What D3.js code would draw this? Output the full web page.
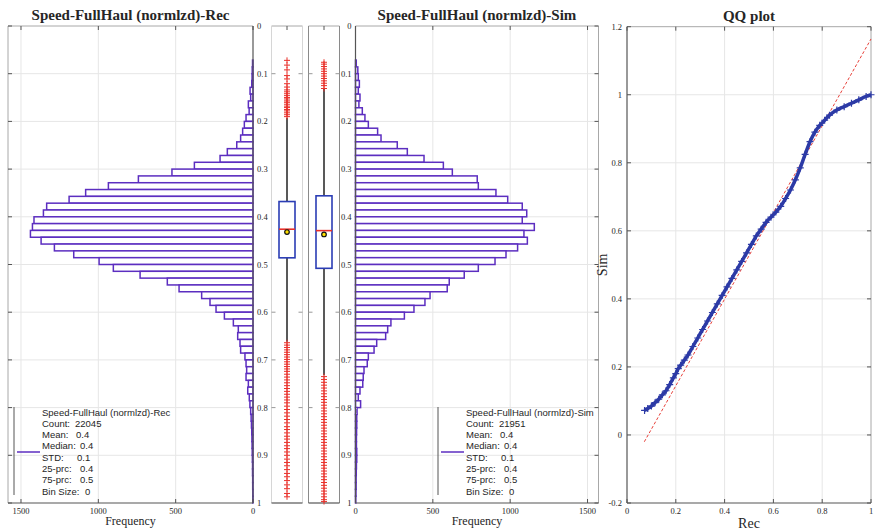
<!DOCTYPE html>
<html><head><meta charset="utf-8">
<script src="https://cdn.jsdelivr.net/npm/d3@7"></script>
<style>body{margin:0;background:#fff} svg{display:block}</style>
</head><body><svg id="c" width="878" height="531"></svg>
<script>
// ---------- data ----------
const binWidth = 1 / 70;
const binStartIndex = 5; // first bin covers [5/70, 6/70]
const recCounts = [3,5,6, 8,19,15,30,25,45,56,67,80,105, 166,213,379,524,741,935,1082,1189,1334,1355,
  1416,1426,1439,1370,1284,1159,995,903,730,554, 478,332,278,239,185,127,95,99,84,80,
  52,45,41,45,30,34,24, 20,15,12,10,8,7,6,5,4,3,3,2,2,1,1];
const simCounts = [5,15,18, 25,18,29,22,44,61,83,143,165,270, 335,443,568,626,787,794,908,984,1078,1107,
  1078,1156,1089,1111,1048,973,902,794,703,606, 593,482,449,378,316,229,208,195,137,120,
  83,76,55,50,47,29,18, 33,10,8,8,7,6,6,8,8,6,5,4,4,3,2];
const valueTicks = [0,0.1,0.2,0.3,0.4,0.5,0.6,0.7,0.8,0.9,1];
const valueTickLabels = ["0","0.1","0.2","0.3","0.4","0.5","0.6","0.7","0.8","0.9","1"];
const freqTicks = [0,500,1000,1500];
// box stats: [upper whisker end, q1, median, q3, lower whisker end, mean]
const recBoxStats = [0.193, 0.368, 0.426, 0.486, 0.662, 0.432];
const simBoxStats = [0.131, 0.356, 0.429, 0.508, 0.732, 0.437];
const recOutliers = [0.072,0.082,0.092,0.104,0.111,0.121,0.128,0.134,0.138,0.142,0.146,0.150,0.153,0.157,0.160,0.164,0.168,0.171,0.175,0.178,0.182,0.186,0.190,
  0.664,0.669,0.674,0.679,0.684,0.689,0.694,0.699,0.704,0.709,0.714,0.719,0.724,0.730,0.736,0.742,0.748,0.754,0.760,0.766,0.772,0.778,0.784,0.790,0.797,0.804,0.811,0.818,0.825,0.832,
  0.840,0.846,0.853,0.860,0.866,0.873,0.880,0.886,0.893,0.900,0.908,0.915,0.922,0.930,0.938,0.945,0.953,0.962,0.970,0.980,0.987];
const simOutliers = [0.076,0.080,0.085,0.090,0.095,0.100,0.105,0.110,0.115,0.120,0.125,0.131,
  0.735,0.741,0.747,0.753,0.759,0.765,0.771,0.777,0.783,0.789,0.795,0.801,0.807,0.813,0.819,0.825,0.831,0.837,0.843,0.849,0.855,0.861,0.867,0.873,0.879,0.885,0.891,0.897,
  0.903,0.909,0.915,0.921,0.927,0.933,0.939,0.945,0.951,0.957,0.963,0.969,0.975,0.981,0.987,0.993,0.997];
const qqRec = [0.072,0.085,0.10,0.115,0.13,0.145,0.16,0.175,0.19,0.20,0.21,0.22,0.235,0.25,0.27,0.29,0.31,0.33,0.35,0.37,0.39,0.41,0.43,0.45,0.47,0.49,0.51,0.53,0.55,0.57,0.59,0.61,0.63,0.65,0.67,0.69,0.71,0.73,0.75,0.77,0.79,0.81,0.83,0.86,0.89,0.92,0.95,0.98,1.0];
const qqSim = [0.072,0.078,0.085,0.095,0.105,0.118,0.13,0.148,0.168,0.18,0.195,0.205,0.22,0.235,0.26,0.285,0.31,0.335,0.36,0.385,0.41,0.435,0.46,0.485,0.51,0.535,0.56,0.585,0.605,0.625,0.64,0.655,0.672,0.695,0.72,0.75,0.785,0.825,0.862,0.89,0.91,0.925,0.94,0.955,0.965,0.975,0.985,0.995,1.0];
const qqRefLineX = [0.071, 1.0];
const qqRefLineY = [-0.02, 1.164];
const qqXTicks = [0,0.2,0.4,0.6,0.8,1];
const qqXTickLabels = ["0","0.2","0.4","0.6","0.8","1"];
const qqYTicks = [-0.2,0,0.2,0.4,0.6,0.8,1,1.2];
const qqYTickLabels = ["-0.2","0","0.2","0.4","0.6","0.8","1","1.2"];
const legendLabels = ["Count:","Mean:","Median:","STD:","25-prc:","75-prc:","Bin Size:"];
const recLegendValues = ["22045","0.4","0.4","0.1","0.4","0.5","0"];
const simLegendValues = ["21951","0.4","0.4","0.1","0.4","0.5","0"];
const legendValueOffsets = [33,34,38,35,38,38,43];

// ---------- styles ----------
const svg = d3.select('#c');
const gridC = '#e6e6e6', lightC = '#a8a8a8', axC = '#555', txtC = '#262626';
const purple = '#5c2ec0', boxBlue = '#2b3db5', outRed = '#e8302a', qqBlue = '#2c3aa6';
const tickFont = 'Liberation Serif, Times New Roman, serif';

const yV = d3.scaleLinear().domain([0,1]).range([26,503]);
const xL = d3.scaleLinear().domain([0,1584]).range([253,8]);
const xR = d3.scaleLinear().domain([0,1571]).range([355.5,598.5]);
const xQ = d3.scaleLinear().domain([0,1]).range([627,871]);
const yQ = d3.scaleLinear().domain([-0.2,1.2]).range([503,26.7]);

function line(g, x1,y1,x2,y2,c,w){ return g.append('line').attr('x1',x1).attr('y1',y1).attr('x2',x2).attr('y2',y2).attr('stroke',c).attr('stroke-width',w||1); }
function txt(g, x,y,s,opt){ opt=opt||{}; return g.append('text').attr('x',x).attr('y',y).text(s)
  .attr('font-family',opt.ff||tickFont).attr('font-size',opt.fs||8.5).attr('fill',opt.fill||txtC)
  .attr('text-anchor',opt.anchor||'start').attr('font-weight',opt.fw||'normal'); }

// ---------- histogram ----------
function histogram(xs, counts, axisOnRight, title, legendX, legendVals, legendName) {
  const g = svg.append('g');
  const [xa, xb] = xs.range();
  const xmin = Math.min(xa,xb), xmax = Math.max(xa,xb);
  const y0 = yV(0), y1 = yV(1);
  valueTicks.slice(1,-1).forEach(v => line(g, xmin, yV(v), xmax, yV(v), gridC, 1));
  freqTicks.slice(1).forEach(f => line(g, xs(f), y0, xs(f), y1, gridC, 1));
  counts.forEach((c,i) => {
    if (c <= 0) return;
    const k = binStartIndex + i;
    const yt = yV(k*binWidth), yb = yV((k+1)*binWidth);
    const xz = xs(0), xc = xs(c);
    g.append('rect').attr('x', Math.min(xz,xc)).attr('width', Math.abs(xc-xz))
      .attr('y', yt).attr('height', yb-yt)
      .attr('fill','#fff').attr('stroke',purple).attr('stroke-width',1.5);
  });
  const axisX = xs(0);
  const otherX = axisOnRight ? xmin : xmax;
  line(g, xmin, y0, xmax, y0, lightC, 1);
  line(g, otherX, y0, otherX, y1, lightC, 1);
  line(g, xmin, y1, xmax, y1, axC, 1.2);
  line(g, axisX, y0, axisX, y1, axC, 1.2);
  freqTicks.forEach(f => { line(g, xs(f), y1, xs(f), y1-4, axC, 1); line(g, xs(f), y0, xs(f), y0+4, axC, 1); });
  valueTicks.forEach(v => { line(g, otherX, yV(v), otherX + (axisOnRight?4:-4), yV(v), axC, 1); });
  valueTicks.forEach((v,i) => {
    if (axisOnRight) txt(g, axisX+4, yV(v)+3, valueTickLabels[i]);
    else txt(g, axisX-4, yV(v)+3, valueTickLabels[i], {anchor:'end'});
  });
  freqTicks.forEach(f => txt(g, xs(f), 514, String(f), {anchor:'middle'}));
  txt(g, (xmin+xmax)/2, 525, 'Frequency', {fs:12, anchor:'middle'});
  txt(g, (xmin+xmax)/2, 20, title, {fs:15, fw:'bold', anchor:'middle'});
  const lg = svg.append('g');
  line(lg, legendX-28, 407, legendX-28, 495, '#555', 1);
  line(lg, legendX-25, 452, legendX-2, 452, purple, 1.5);
  const lf = {ff:'Liberation Sans, Arial, sans-serif', fs:9.5};
  txt(lg, legendX, 415.5, legendName, lf);
  legendLabels.forEach((l,i) => {
    const yy = 415.5 + (i+1)*11.3;
    txt(lg, legendX, yy, l, lf);
    txt(lg, legendX + legendValueOffsets[i], yy, legendVals[i], lf);
  });
}
histogram(xL, recCounts, true, 'Speed-FullHaul (normlzd)-Rec', 42, recLegendValues, 'Speed-FullHaul (normlzd)-Rec');
histogram(xR, simCounts, false, 'Speed-FullHaul (normlzd)-Sim', 466, simLegendValues, 'Speed-FullHaul (normlzd)-Sim');

// ---------- box plots ----------
function boxPanel(x0, x1, stats, outliers, sideC) {
  const g = svg.append('g');
  const cx = (x0+x1)/2, y0 = yV(0), y1 = yV(1);
  line(g, x0, y0, x1, y0, lightC, 1);
  line(g, x0, y0, x0, y1, sideC, 1);
  line(g, x1, y0, x1, y1, sideC, 1);
  line(g, x0, y1, x1, y1, axC, 1.2);
  line(g, cx, y0, cx, y0+4, axC, 1);
  [0.1,0.6,0.7,0.8].forEach(v => { line(g, x0, yV(v), x0+4, yV(v), '#999', 1); line(g, x1, yV(v), x1-4, yV(v), '#999', 1); });
  const [wTop, q1, med, q3, wBot, mean] = stats;
  line(g, cx, yV(wTop), cx, yV(q1), '#222', 1.5);
  line(g, cx, yV(q3), cx, yV(wBot), '#222', 1.5);
  g.append('rect').attr('x', cx-8).attr('width', 16).attr('y', yV(q1)).attr('height', yV(q3)-yV(q1))
    .attr('fill','#fff').attr('stroke', boxBlue).attr('stroke-width', 1.6);
  line(g, cx-8, yV(med), cx+8, yV(med), outRed, 1.6);
  g.append('circle').attr('cx', cx).attr('cy', yV(mean)).attr('r', 2.3).attr('fill','#ffe000').attr('stroke','#111').attr('stroke-width',1.2);
  g.selectAll('path.o').data(outliers).enter().append('path')
    .attr('d', d => `M${cx-3},${yV(d)}H${cx+3}M${cx},${yV(d)-3}V${yV(d)+3}`)
    .attr('stroke', outRed).attr('stroke-width', 1).attr('fill','none');
}
boxPanel(271.5, 302.5, recBoxStats, recOutliers, '#d6d6d6');
boxPanel(308.5, 339.5, simBoxStats, simOutliers, '#8a8a8a');

// ---------- QQ plot ----------
(function(){
  const g = svg.append('g');
  const [x0,x1] = xQ.range(), [y0,y1] = [yQ(1.2), yQ(-0.2)];
  qqXTicks.slice(1,-1).forEach(v => line(g, xQ(v), y0, xQ(v), y1, gridC, 1));
  qqYTicks.slice(1,-1).forEach(v => line(g, x0, yQ(v), x1, yQ(v), gridC, 1));
  line(g, x0, y0, x1, y0, lightC, 1);
  line(g, x1, y0, x1, y1, lightC, 1);
  line(g, x0, y1, x1, y1, axC, 1.2);
  line(g, x0, y0, x0, y1, axC, 1.2);
  qqXTicks.forEach((v,i) => { line(g, xQ(v), y1, xQ(v), y1-4, axC, 1); line(g, xQ(v), y0, xQ(v), y0+4, axC, 1);
    txt(g, xQ(v), 514, qqXTickLabels[i], {anchor:'middle'}); });
  qqYTicks.forEach((v,i) => { line(g, x0, yQ(v), x0+4, yQ(v), axC, 1); line(g, x1, yQ(v), x1-4, yQ(v), axC, 1);
    txt(g, x0-5, yQ(v)+3, qqYTickLabels[i], {anchor:'end'}); });
  line(g, xQ(qqRefLineX[0]), yQ(qqRefLineY[0]), xQ(qqRefLineX[1]), yQ(qqRefLineY[1]), '#e8413a', 1).attr('stroke-dasharray','3,2');
  const pts = qqRec.map((r,i) => [r, qqSim[i]]);
  g.append('path').datum(pts).attr('d', d3.line().x(d=>xQ(d[0])).y(d=>yQ(d[1])).curve(d3.curveMonotoneX))
    .attr('fill','none').attr('stroke', qqBlue).attr('stroke-width', 3.5);
  g.selectAll('path.q').data(pts).enter().append('path')
    .attr('d', d => { const x=xQ(d[0]), y=yQ(d[1]); return `M${x-3.5},${y}H${x+3.5}M${x},${y-3.5}V${y+3.5}`; })
    .attr('stroke', qqBlue).attr('stroke-width', 1.2).attr('fill','none');
  txt(g, (x0+x1)/2, 21, 'QQ plot', {fs:15, fw:'bold', anchor:'middle'});
  txt(g, (x0+x1)/2, 528, 'Rec', {fs:14, anchor:'middle'});
  txt(g, 0, 0, 'Sim', {fs:14, anchor:'middle'}).attr('transform', `translate(607,${(y0+y1)/2}) rotate(-90)`);
})();
</script></body></html>
